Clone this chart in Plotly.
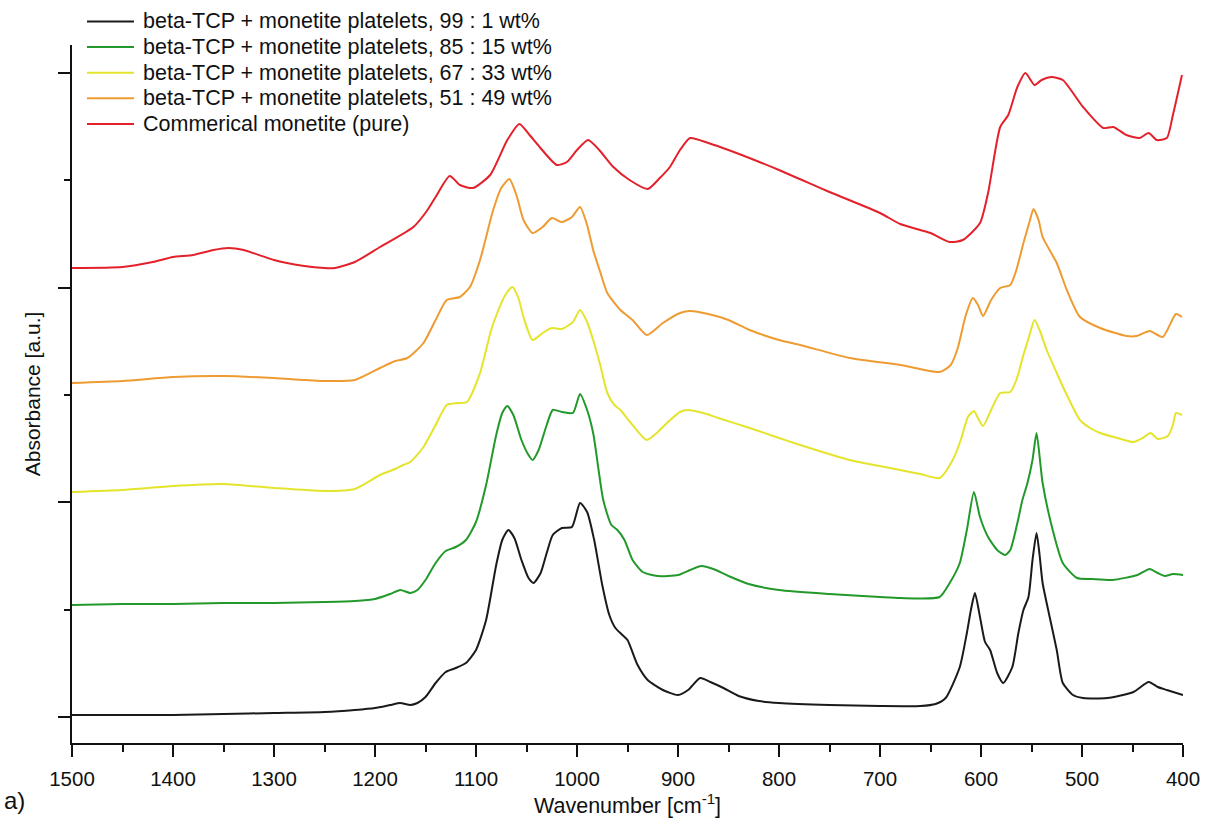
import plotly.graph_objects as go

# ---------------- data (absorbance in a.u.) ----------------
black_wn = [1500, 1450, 1400, 1350, 1300, 1250, 1220, 1200, 1185, 1175, 1165, 1158, 1150, 1140, 1130, 1120,
            1110, 1100, 1090, 1080, 1074, 1068, 1062, 1055, 1048, 1043, 1036, 1030, 1024, 1015, 1005, 997,
            990, 983, 975, 968, 962, 955, 950, 940, 930, 915, 900, 890, 878, 868, 855, 840, 820, 800, 750,
            700, 660, 645, 635, 621, 614, 610, 606, 601, 596, 591, 584, 578, 569, 563, 558, 553, 549, 545,
            542, 539, 532, 525, 519, 509, 499, 475, 449, 434, 425, 416, 400]
black_ab = [2, 2, 2, 3, 4, 5, 7, 9, 12, 14, 12, 14, 20, 34, 45, 49,
            54, 67, 97, 152, 177, 187, 179, 157, 139, 134, 144, 164, 182, 189, 190, 214,
            205, 177, 132, 102, 89, 82, 77, 52, 37, 27, 22, 27, 39, 35, 29, 21, 16, 14, 12,
            11, 11, 13, 19, 50, 84, 107, 124, 100, 75, 67, 44, 34, 50, 84, 107, 120, 157, 184,
            162, 134, 100, 67, 34, 22, 19, 19, 25, 35, 30, 27, 22]

green_wn = [1500, 1450, 1400, 1350, 1300, 1250, 1220, 1200, 1185, 1175, 1165, 1158, 1150, 1140, 1130, 1120,
            1110, 1100, 1090, 1080, 1074, 1069, 1063, 1055, 1048, 1044, 1038, 1030, 1024, 1015, 1004, 997,
            990, 984, 974, 966, 960, 953, 945, 935, 920, 900, 888, 877, 865, 850, 830, 800, 750, 700, 680,
            641, 631, 621, 614, 607, 601, 593, 584, 576, 571, 564, 559, 554, 549, 545, 539, 529, 519, 505,
            490, 470, 445, 433, 425, 418, 410, 400]
green_ab = [112, 113, 113, 114, 114, 115, 116, 118, 123, 127, 124, 127, 137, 154, 166, 170,
            177, 195, 232, 282, 304, 311, 302, 277, 262, 257, 267, 292, 307, 305, 304, 323,
            307, 284, 217, 192, 187, 177, 157, 145, 141, 142, 147, 151, 148, 141, 133, 127, 123, 120, 119,
            120, 134, 154, 187, 225, 200, 180, 167, 162, 167, 194, 217, 234, 257, 284, 234, 187, 154, 139,
            138, 137, 142, 148, 144, 141, 143, 142]

yellow_wn = [1500, 1450, 1400, 1350, 1300, 1250, 1220, 1195, 1180, 1172, 1165, 1152, 1140, 1129, 1118, 1109,
             1096, 1085, 1079, 1071, 1064, 1058, 1053, 1044, 1034, 1025, 1015, 1004, 997, 990, 984, 977,
             970, 963, 957, 945, 931, 920, 911, 898, 890, 875, 860, 829, 800, 779, 730, 680, 660, 641, 628,
             620, 613, 607, 603, 598, 590, 581, 571, 565, 558, 552, 547, 542, 535, 525, 515, 502, 492, 482,
             465, 449, 440, 432, 425, 415, 410, 407, 401]
yellow_ab = [225, 227, 231, 233, 229, 226, 228, 242, 248, 252, 255, 270, 292, 312, 314, 315,
             344, 387, 404, 422, 430, 419, 400, 377, 384, 389, 388, 395, 407, 395, 377, 352,
             324, 312, 307, 292, 277, 285, 294, 305, 307, 304, 299, 289, 279, 272, 257, 247, 243, 239, 257,
             277, 300, 306, 299, 291, 307, 324, 325, 337, 362, 382, 397, 387, 367, 344, 322, 297, 289, 284,
             279, 275, 279, 284, 278, 281, 292, 304, 302]

orange_wn = [1500, 1450, 1400, 1350, 1300, 1250, 1220, 1195, 1180, 1168, 1152, 1140, 1129, 1116, 1106, 1096,
             1083, 1075, 1067, 1060, 1053, 1044, 1034, 1025, 1015, 1005, 997, 990, 984, 977, 970, 957,
             945, 931, 915, 898, 888, 870, 850, 829, 800, 779, 730, 680, 641, 630, 623, 615, 608, 603, 598,
             590, 581, 571, 565, 558, 552, 548, 543, 539, 525, 515, 502, 482, 456, 446, 433, 420, 407, 401]
orange_ab = [334, 336, 340, 341, 339, 336, 337, 349, 356, 359, 374, 397, 417, 420, 430, 457,
             507, 529, 538, 522, 497, 484, 490, 499, 495, 500, 510, 492, 467, 445, 424, 407,
             397, 382, 394, 404, 406, 403, 397, 387, 377, 372, 359, 352, 345, 352, 369, 402, 419, 412, 401,
             417, 429, 432, 447, 474, 495, 508, 497, 480, 454, 427, 400, 389, 381, 381, 386, 380, 403, 400]

red_wn = [1500, 1450, 1420, 1400, 1380, 1360, 1345, 1330, 1300, 1270, 1250, 1240, 1220, 1195, 1162, 1148,
          1140, 1126, 1116, 1103, 1086, 1069, 1057, 1047, 1037, 1020, 1010, 1000, 989, 978, 964, 948,
          930, 918, 908, 898, 888, 870, 850, 800, 750, 700, 680, 650, 631, 618, 601, 593, 581, 573,
          564, 556, 547, 540, 530, 519, 499, 479, 469, 456, 443, 434, 426, 416, 410, 401]
red_ab = [449, 450, 455, 460, 462, 467, 469, 467, 457, 451, 449, 449, 455, 470, 490, 507,
          520, 541, 532, 529, 542, 577, 593, 582, 570, 552, 555, 567, 577, 567, 550, 537,
          528, 539, 550, 567, 579, 574, 567, 547, 525, 504, 493, 484, 475, 477, 494, 524, 590, 602,
          630, 644, 632, 637, 640, 637, 610, 589, 590, 582, 579, 584, 577, 579, 602, 642]

series_names = [
    "beta-TCP + monetite platelets, 99 : 1 wt%",
    "beta-TCP + monetite platelets, 85 : 15 wt%",
    "beta-TCP + monetite platelets, 67 : 33 wt%",
    "beta-TCP + monetite platelets, 51 : 49 wt%",
    "Commerical monetite (pure)",
]
series_colors = ["#1a1a1a", "#23992b", "#e4e42c", "#ee9b32", "#e3212b"]
series_x = [black_wn, green_wn, yellow_wn, orange_wn, red_wn]
series_y = [black_ab, green_ab, yellow_ab, orange_ab, red_ab]

x_ticks = [1500, 1400, 1300, 1200, 1100, 1000, 900, 800, 700, 600, 500, 400]

# ---------------- layout geometry (pixels) ----------------
W, H = 1208, 825
ML, MR, MT, MB = 72, 25, 45, 82
PW, PH = W - ML - MR, H - MT - MB


def px(xp):
    return (xp - ML) / PW


def py(yp):
    return (H - MB - yp) / PH


FONT = "Arial, Liberation Sans, sans-serif"

fig = go.Figure()
for name, col, xs, ys in zip(series_names, series_colors, series_x, series_y):
    fig.add_trace(go.Scatter(x=xs, y=ys, mode="lines", name=name, showlegend=False,
                             line=dict(color=col, width=2, shape="spline", smoothing=0.6)))

# manual legend (lines + text)
row_y = [21.5, 47.1, 72.7, 98.3, 123.9]
for name, col, ry in zip(series_names, series_colors, row_y):
    fig.add_shape(type="line", xref="paper", yref="paper", x0=px(87), x1=px(134), y0=py(ry), y1=py(ry),
                  line=dict(color=col, width=2))
    fig.add_annotation(xref="paper", yref="paper", x=px(141), y=py(ry), text=name, showarrow=False,
                       xanchor="left", yanchor="middle", font=dict(family=FONT, size=21.5, color="#111"))

fig.add_annotation(xref="paper", yref="paper", x=px(2), y=py(800), text="a)", showarrow=False,
                   xanchor="left", yanchor="middle", font=dict(family=FONT, size=24, color="#111"))

fig.update_layout(
    width=W, height=H,
    margin=dict(l=ML, r=MR, t=MT, b=MB, autoexpand=False),
    paper_bgcolor="white", plot_bgcolor="white",
    font=dict(family=FONT, size=20, color="#111"),
    xaxis=dict(range=[1500, 400], tickvals=x_ticks, ticktext=[str(v) for v in x_ticks],
               ticks="outside", ticklen=12, tickwidth=2, tickcolor="#111",
               minor=dict(dtick=50, tick0=400, ticks="outside", ticklen=7, tickwidth=2, tickcolor="#111"),
               showline=True, linewidth=2, linecolor="#111", showgrid=False, zeroline=False,
               tickfont=dict(size=20.5), ticklabelstandoff=4,
               title=dict(text="Wavenumber [cm<sup>-1</sup>]", font=dict(size=21.5), standoff=8)),
    yaxis=dict(range=[-26, 672], tick0=0, dtick=214.7, showticklabels=False,
               ticks="outside", ticklen=12, tickwidth=2, tickcolor="#111",
               minor=dict(dtick=107.35, tick0=0, ticks="outside", ticklen=6, tickwidth=2, tickcolor="#111"),
               showline=True, linewidth=2, linecolor="#111", showgrid=False, zeroline=False,
               title=dict(text="Absorbance [a.u.]", font=dict(size=21), standoff=12)),
)

fig.write_html("out.html")
